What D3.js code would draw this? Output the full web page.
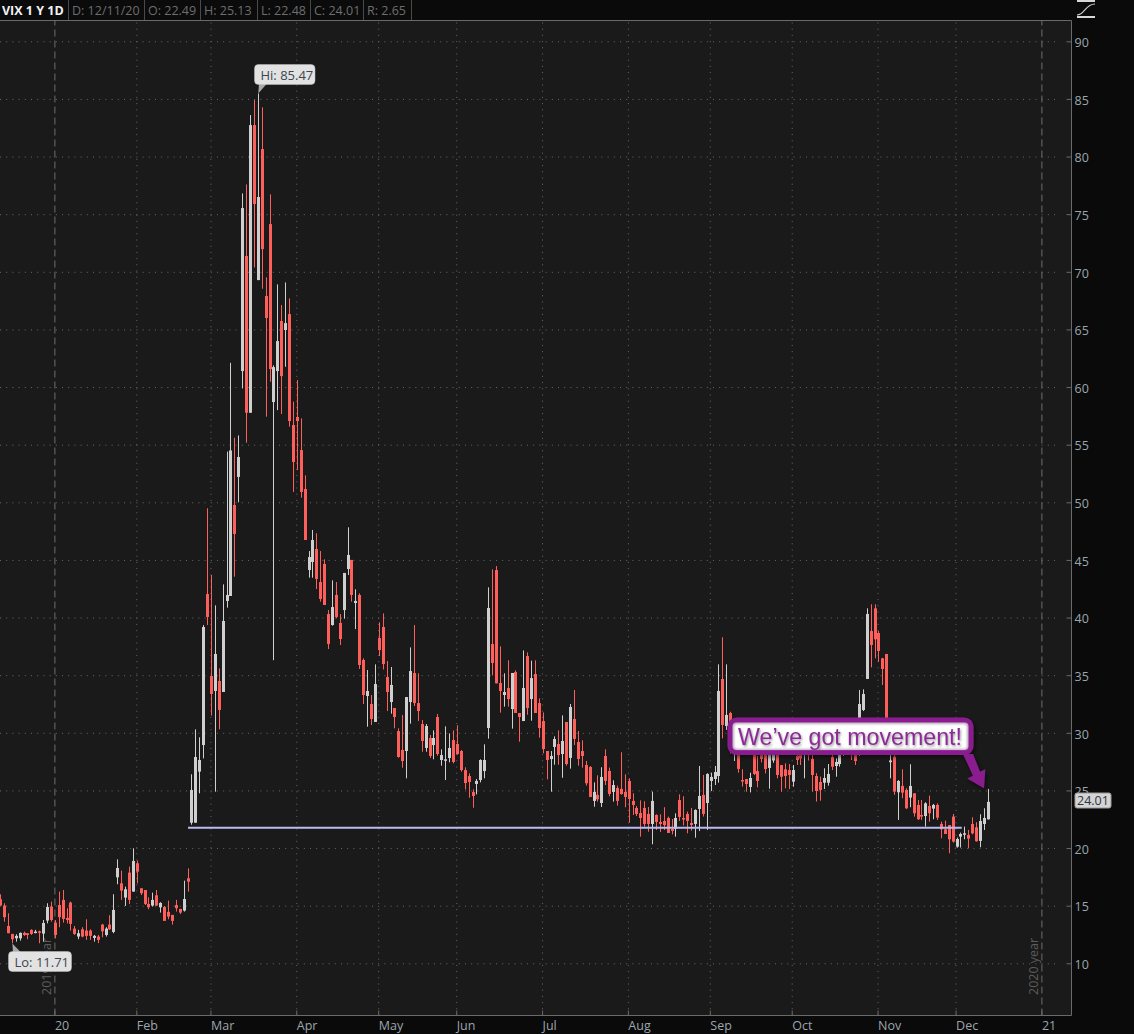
<!DOCTYPE html>
<html>
<head>
<meta charset="utf-8">
<script src="https://cdnjs.cloudflare.com/ajax/libs/d3/7.8.5/d3.min.js"></script>
<style>
html,body{margin:0;padding:0;background:#0a0a0a;overflow:hidden}
svg{display:block}
text{font-family:"Open Sans",sans-serif}
</style>
</head>
<body>
<svg id="c" width="1134" height="1034"></svg>
<script>
// Daily bars, first bar is 14 sessions before 2 Jan 2020 (bar index 0)
const firstBar = -14;
const opens = [
15.56,15.01,13.24,12.55,12.17,12.17,12.64,12.61,12.90,12.72,12.78,12.58,13.71,14.92,
13.53,15.06,15.50,13.94,15.27,13.01,12.32,12.95,12.84,12.84,12.20,12.32,13.36,12.46,13.36,12.72,
17.46,16.94,15.70,17.87,16.22,18.68,16.51,16.36,15.15,15.01,15.90,14.86,14.89,14.46,14.20,15.06,14.72,14.57,17.38,
22.20,22.20,26.63,28.94,42.04,34.93,33.63,34.50,33.54,41.44,41.87,49.77,52.20,61.39,71.37,57.77,82.73,69.28,80.65,67.90,74.14,58.70,61.39,65.73,64.95,66.33,56.70,57.40,54.53,51.15,
44.13,44.82,45.95,43.08,44.65,40.30,39.35,41.96,39.53,40.65,44.21,45.00,41.26,41.96,36.32,33.19,32.50,30.94,
38.22,39.18,34.84,32.67,32.15,30.15,28.51,28.42,32.67,35.19,32.58,30.76,28.68,29.55,28.94,31.37,27.64,27.58,27.81,29.37,29.03,28.42,26.77,26.25,24.86,25.56,25.90,26.68,
30.42,37.70,44.12,34.32,33.28,33.89,32.06,35.27,31.72,31.02,36.66,32.93,35.10,32.58,31.02,28.42,27.72,28.77,29.03,28.16,30.94,
27.82,31.20,29.20,28.42,27.21,27.03,24.09,24.61,23.91,27.99,26.69,24.87,25.21,25.13,24.87,25.82,24.09,23.48,23.04,23.48,22.96,22.09,22.87,22.26,22.35,22.61,21.66,21.66,24.17,22.61,22.96,22.18,22.09,23.39,24.61,23.91,
25.82,25.99,26.25,34.67,30.59,31.72,28.60,28.90,25.90,25.99,25.30,28.50,26.68,28.50,28.30,26.95,27.60,28.60,27.20,26.83,26.77,25.76,28.00,28.50,28.20,29.40,27.73,26.25,25.73,25.67,25.67,27.90,27.12,27.29,28.50,29.50,29.00,28.20,28.50,31.98,34.67,38.83,40.80,38.66,36.46,36.84,27.45,27.93,
24.84,25.39,25.04,24.38,24.75,23.74,22.87,22.78,23.65,23.42,23.74,22.09,21.63,22.00,22.73,20.12,20.99,21.19,21.14,22.09,21.80,20.62,22.09,22.49
];
const closes = [
15.01,14.00,12.61,12.09,12.38,12.64,12.46,12.46,12.55,12.75,12.67,13.50,14.89,13.76,
12.46,14.00,13.85,13.76,13.42,12.55,12.61,12.32,12.38,12.38,12.38,12.03,12.78,13.01,12.95,14.63,
18.27,16.31,16.42,15.50,18.88,17.95,16.08,15.15,14.86,15.50,15.01,15.24,13.68,14.05,13.68,14.78,14.40,15.58,17.09,
25.04,27.90,27.64,39.18,40.05,33.37,36.84,31.98,39.70,41.96,54.50,47.25,53.93,75.53,57.77,82.73,75.88,76.49,71.97,65.99,61.56,61.73,63.99,60.95,65.55,57.05,53.50,57.05,50.90,46.73,
45.25,46.73,43.35,41.61,41.09,37.71,40.91,40.05,38.14,43.87,45.43,41.96,41.44,35.88,33.28,33.63,31.20,34.23,
37.18,35.97,33.54,34.15,31.37,27.90,27.55,33.10,35.36,32.58,31.89,29.29,30.59,27.99,29.55,28.16,28.07,27.70,28.68,27.47,28.16,26.77,25.64,25.73,24.52,25.82,27.64,27.64,
40.83,36.06,34.29,33.63,33.54,32.93,35.19,31.72,31.37,33.89,32.15,34.75,31.72,30.42,28.59,27.64,27.99,29.46,28.07,29.29,27.29,
32.24,29.47,27.73,27.99,25.62,24.43,24.87,24.23,26.17,25.82,24.69,25.47,24.09,24.69,24.43,24.26,23.74,22.96,22.61,22.09,22.09,24.09,22.26,22.09,22.00,21.31,21.48,22.61,22.70,22.52,22.35,22.00,23.30,24.52,22.96,26.43,
26.17,26.60,33.63,30.68,31.55,28.81,29.71,26.87,25.85,25.56,26.08,26.43,25.82,27.73,26.86,28.58,28.51,26.34,26.19,26.25,26.34,26.77,27.64,27.78,29.48,28.06,26.34,24.95,25.04,26.08,26.43,27.06,27.47,29.18,29.35,28.65,28.11,27.55,32.50,33.37,40.31,37.62,38.11,37.10,35.54,29.57,27.60,24.90,
25.82,24.81,23.45,25.39,23.02,22.50,22.73,23.88,23.02,23.74,22.64,21.63,21.22,20.76,20.56,20.79,21.22,21.28,20.82,21.28,20.59,22.35,22.61,24.01
];
const highs = [
15.99,15.21,14.34,12.55,12.52,12.67,12.75,12.61,12.95,12.90,12.84,13.76,15.21,15.35,
13.76,16.22,16.36,14.78,15.35,13.24,12.90,13.13,13.82,12.95,12.46,12.46,13.42,13.13,14.17,15.99,
19.02,18.04,16.65,18.39,19.98,18.91,16.51,16.36,15.73,16.13,16.36,15.30,14.98,15.44,14.20,15.50,14.72,17.17,18.24,
26.40,30.30,29.61,39.35,49.48,43.69,41.06,35.59,42.88,54.40,62.10,55.60,55.80,76.80,77.58,83.60,84.90,85.47,84.27,69.52,76.72,61.88,68.91,67.12,69.08,67.69,58.73,60.61,57.28,52.34,
45.77,47.60,47.31,45.77,45.05,40.65,43.23,43.08,40.30,43.87,47.83,45.00,42.45,42.10,36.46,35.45,33.28,35.94,
39.58,40.36,36.23,35.71,32.15,30.39,31.54,33.10,37.41,39.35,35.16,31.11,30.76,29.81,30.21,31.63,28.56,30.56,29.95,30.21,30.65,28.51,27.00,26.48,25.09,25.99,27.70,29.00,
42.62,44.18,44.47,37.50,35.16,36.29,35.19,35.42,31.72,37.15,36.98,36.26,36.29,32.99,31.77,28.42,28.42,29.69,30.21,31.51,30.94,
32.50,33.72,30.16,29.35,27.56,27.12,25.70,26.31,27.01,28.57,26.98,25.88,25.42,28.31,26.40,26.05,24.75,23.65,24.14,24.06,23.56,24.90,22.93,22.93,23.54,22.73,22.52,23.01,24.66,24.49,23.16,23.48,23.36,27.12,26.34,26.49,
26.54,27.12,35.94,38.29,35.94,31.83,30.60,29.20,26.83,25.99,26.54,29.50,28.00,28.90,28.80,29.40,29.50,29.30,27.20,27.35,27.29,27.21,28.30,29.00,30.30,30.00,28.40,26.50,26.20,26.92,27.29,28.40,27.78,29.90,30.20,30.00,29.50,28.90,33.71,33.77,40.80,41.15,41.15,38.83,36.50,36.84,28.50,28.40,
25.90,26.83,25.19,27.27,24.75,24.17,24.17,23.97,24.55,23.83,23.88,22.29,22.38,22.00,22.96,20.91,21.34,21.86,21.57,22.67,22.24,22.93,23.45,25.13
];
const lows = [
15.01,13.62,12.61,11.74,11.88,11.97,12.38,12.09,12.46,12.61,11.74,11.88,13.47,13.62,
12.17,13.13,13.53,13.47,12.84,12.46,12.09,12.26,12.03,12.03,11.88,11.75,12.26,12.32,12.90,12.61,
16.86,15.50,14.98,15.15,16.22,16.94,15.93,15.06,14.69,14.92,14.98,14.40,13.68,13.82,13.36,14.49,14.28,14.49,16.22,
22.03,22.20,24.75,27.78,39.35,31.49,24.89,30.30,33.54,40.86,41.87,43.55,50.00,59.88,55.17,57.77,70.38,69.28,68.53,57.43,60.46,36.30,58.00,57.66,61.76,56.56,50.90,52.80,50.40,46.73,
43.46,43.46,42.48,41.38,41.09,37.27,39.30,39.93,37.62,39.90,43.69,41.38,39.00,35.54,32.50,30.53,30.68,30.94,
36.66,35.50,31.89,31.66,30.39,27.84,26.97,26.05,30.79,32.32,31.02,28.36,28.36,27.81,27.70,28.01,27.15,25.90,27.44,27.35,28.10,26.63,25.09,24.37,23.50,24.66,25.70,26.05,
29.49,34.99,34.29,31.75,32.27,32.27,30.36,31.72,29.23,31.02,31.57,31.05,31.72,29.58,28.22,25.96,24.89,27.23,27.23,26.10,27.15,
26.89,28.94,27.15,26.98,25.42,24.43,23.59,24.03,23.56,25.47,24.49,24.03,23.68,24.63,23.54,22.20,22.87,22.78,20.99,21.86,21.42,20.33,21.57,21.40,21.57,21.31,21.19,20.99,22.35,21.97,21.28,21.51,20.90,21.48,22.73,21.57,
24.95,25.47,25.68,29.52,30.25,28.20,27.55,26.54,25.33,24.89,24.83,26.34,25.27,27.44,26.48,25.15,27.40,26.05,24.89,25.18,25.12,25.33,27.21,27.21,26.05,27.60,24.89,24.03,24.11,25.12,25.41,26.77,26.19,27.06,28.00,28.20,27.64,27.21,28.00,31.89,34.67,35.68,36.46,36.17,34.15,28.90,26.05,24.61,
22.44,24.32,23.39,23.54,22.73,22.44,22.44,21.86,22.29,22.50,22.44,20.85,21.22,19.55,20.47,20.04,20.04,20.76,19.98,21.19,20.56,20.07,21.57,22.48
];

const priceTicks = [10,15,20,25,30,35,40,45,50,55,60,65,70,75,80,85,90];
const monthBars = [21,40,62,83,103,125,147,168,189,211,231];
const monthLabels = ["Feb","Mar","Apr","May","Jun","Jul","Aug","Sep","Oct","Nov","Dec"];
const yearBars = [0,253];
const yearLabels = ["20","21"];
const headerLabels = ["VIX 1 Y 1D","D: 12/11/20","O: 22.49","H: 25.13","L: 22.48","C: 24.01","R: 2.65"];
const supportLevel = 21.77;
const supportBars = [34,232.2];
const hiBar = 52, hiValue = 85.47, loBar = -11, loValue = 11.71;
const lastClose = 24.01;
const calloutText = "We\u2019ve got movement!";
const yearMarks = ["2019 year","2020 year"];

const W = 1134, H = 1034;
const plot = {left:0, right:1071.5, top:20.5, bottom:1015.5};
const x = d3.scaleLinear().domain([0,239]).range([55.3,988.3]);
const y = d3.scaleLinear().domain([10,90]).range([963.3,41.3]);
const gx = d3.scaleLinear().domain([0,253]).range([54.4,1041.4]); // calendar grid
const svg = d3.select("#c");
const defs = svg.append("defs");
const shadow = defs.append("filter").attr("id","ds").attr("x","-20%").attr("y","-40%").attr("width","140%").attr("height","180%");
shadow.append("feDropShadow").attr("dx",1.5).attr("dy",2).attr("stdDeviation",2).attr("flood-color","#000").attr("flood-opacity",0.6);
const tshadow = defs.append("filter").attr("id","ts").attr("x","-5%").attr("y","-30%").attr("width","110%").attr("height","170%");
tshadow.append("feDropShadow").attr("dx",1).attr("dy",1.5).attr("stdDeviation",1.2).attr("flood-color","#555").attr("flood-opacity",0.6);
const blur = defs.append("filter").attr("id","bl");
blur.append("feGaussianBlur").attr("stdDeviation",1);

svg.append("rect").attr("width",W).attr("height",H).attr("fill","#0a0a0a");
svg.append("rect").attr("x",0).attr("y",plot.top).attr("width",plot.right).attr("height",plot.bottom-plot.top).attr("fill","#1a1a1a");

// horizontal grid
const gridY = svg.append("g").attr("transform","translate(0,0)")
  .call(d3.axisRight(y).tickValues(priceTicks).tickSize(1060).tickFormat(""));
gridY.select(".domain").remove();
gridY.selectAll("line").attr("stroke","#6a6a6a").attr("stroke-dasharray","1 5.2");

// vertical month grid
const gridX = svg.append("g").attr("transform",`translate(0,${plot.bottom})`)
  .call(d3.axisTop(gx).tickValues(monthBars).tickSize(plot.bottom-plot.top).tickFormat(""));
gridX.select(".domain").remove();
gridX.selectAll("line").attr("stroke","#6a6a6a").attr("stroke-dasharray","1 5.2");

// year lines
const gridYear = svg.append("g").attr("transform",`translate(0,${plot.bottom})`)
  .call(d3.axisTop(gx).tickValues(yearBars).tickSize(plot.bottom-plot.top).tickFormat(""));
gridYear.select(".domain").remove();
gridYear.selectAll("line").attr("stroke","#6e6e6e").attr("stroke-dasharray","7 4");

// year watermarks
svg.selectAll("text.ym").data(yearMarks).join("text").attr("class","ym")
  .attr("transform",(d,i)=>`translate(${gx(yearBars[i])-3.7},995) rotate(-90)`)
  .attr("font-size",12.5).attr("fill","#5c5c5c").text(d=>d);

// candles
const bars = d3.range(opens.length).map(i=>({i:i+firstBar,o:opens[i],h:highs[i],l:lows[i],c:closes[i]}));
const col = d => d.c>=d.o ? "#cfcfcf" : "#ff5f5b";
const px = d => Math.floor(x(d.i));
const cg = svg.append("g");
cg.selectAll("rect.w").data(bars).join("rect").attr("class","w")
  .attr("x",d=>px(d)).attr("width",1)
  .attr("y",d=>y(d.h)).attr("height",d=>y(d.l)-y(d.h)).attr("fill",col);
cg.selectAll("rect.b").data(bars).join("rect").attr("class","b")
  .attr("x",d=>px(d)-1).attr("width",3)
  .attr("y",d=>y(Math.max(d.o,d.c)))
  .attr("height",d=>Math.max(1.5,Math.abs(y(d.o)-y(d.c)))).attr("fill",col);

// support line
svg.append("line").attr("x1",x(supportBars[0])).attr("x2",x(supportBars[1]))
  .attr("y1",y(supportLevel)).attr("y2",y(supportLevel))
  .attr("stroke","#b9bcf2").attr("stroke-width",2);

// frame + axes
svg.append("path").attr("d",`M0,${plot.top}H${plot.right}V${plot.bottom}H0`).attr("fill","none").attr("stroke","#6a6a6a");

const axisColor = "#9ba6ae";
const ay = svg.append("g").attr("transform",`translate(${plot.right},0)`)
  .call(d3.axisRight(y).tickValues(priceTicks).tickSizeInner(-5).tickSizeOuter(0).tickPadding(3));
ay.select(".domain").remove();
ay.selectAll("line").attr("stroke","#6a6a6a");
ay.selectAll("text").attr("fill",axisColor).attr("font-size",12.5).attr("font-family",'"Open Sans",sans-serif').attr("dy","0.42em");

const monthAxis = d3.axisBottom(gx).tickValues(monthBars.concat(yearBars))
  .tickFormat(d=> yearBars.includes(d) ? yearLabels[yearBars.indexOf(d)] : monthLabels[monthBars.indexOf(d)])
  .tickSizeInner(-5).tickSizeOuter(0).tickPadding(6);
const ax = svg.append("g").attr("transform",`translate(0,${plot.bottom})`).call(monthAxis);
ax.select(".domain").remove();
ax.selectAll("line").attr("stroke","#6a6a6a");
ax.selectAll("text").attr("fill",axisColor).attr("font-size",12.5).attr("font-family",'"Open Sans",sans-serif')
  .attr("text-anchor","start").attr("dx",0).attr("y",6).attr("dy",".71em");

// header
const seps = [0,68,144,200,257,310,363,411];
svg.append("rect").attr("width",411).attr("height",20).attr("fill","#0b0b0b");
svg.selectAll("line.sep").data(seps.slice(1)).join("line").attr("class","sep")
  .attr("x1",d=>d+0.5).attr("x2",d=>d+0.5).attr("y1",0).attr("y2",20).attr("stroke","#4a4a4a");
svg.selectAll("text.hd").data(headerLabels).join("text").attr("class","hd")
  .attr("x",(d,i)=> i===0 ? 2 : seps[i]+4).attr("y",15)
  .attr("font-size",(d,i)=>i===0?12.5:12.5).attr("font-weight",(d,i)=>i===0?700:400)
  .attr("fill",(d,i)=>i===0?"#f2f2f2":"#6e6e6e").text(d=>d);

// top-right study icon
const ic = svg.append("g");
ic.append("rect").attr("x",1077).attr("y",-1).attr("width",18).attr("height",3).attr("fill","#d8d8d8");
ic.append("rect").attr("x",1077).attr("y",16).attr("width",18).attr("height",2).attr("fill","#d8d8d8");
ic.append("path").attr("d","M1077,15C1085,15 1085,4 1095,4").attr("fill","none").attr("stroke","#d0d0d0").attr("stroke-width",1.1);

// Hi / Lo labels
function bubble(tipX,tipY,bx,by,bw,bh,baseA,baseB,label,tx){
  const g = svg.append("g");
  const baseY = tipY<by ? by+1 : by+bh-1;
  g.append("path").attr("d",`M${tipX},${tipY}L${baseA},${baseY}L${baseB},${baseY}Z`).attr("fill","#a8a8a8");
  g.append("rect").attr("x",bx).attr("y",by).attr("width",bw).attr("height",bh).attr("rx",4).attr("fill","#e2e2e2").attr("stroke","#bdbdbd").attr("stroke-width",0.5);
  g.append("text").attr("x",tx).attr("y",by+15).attr("font-size",13).attr("fill","#3b4650").text(label);
}
bubble(x(hiBar),y(hiValue),254.5,64.5,60.5,20,259,267,"Hi: "+hiValue.toFixed(2),260.5);
bubble(x(loBar),y(loValue),8.5,951.5,63,20,13,21,"Lo: "+loValue.toFixed(2),14.5);

// last price tag
svg.append("rect").attr("x",1075).attr("y",793).attr("width",36).attr("height",15).attr("rx",2).attr("fill","#d4d4d4").attr("stroke","#9a9a9a").attr("stroke-width",1);
svg.append("text").attr("x",1077).attr("y",805).attr("font-size",12.5).attr("fill","#2c3640").text(lastClose.toFixed(2));

// callout
const cal = svg.append("g").attr("filter","url(#ds)");
const purple = "#8a1f90";
const tipX = x(237.9), tipY = y(25.1)-1;
const arrowLine = d3.line();
cal.append("path").attr("d",arrowLine([[963,754],[973,754],[tipX-4,tipY-16.5],[tipX+1.3,tipY-19],[tipX,tipY],[tipX-16.7,tipY-9.7],[tipX-11,tipY-12.5]])+"Z").attr("fill",purple);
cal.append("rect").attr("x",727.5).attr("y",717.5).attr("width",246).attr("height",37.5).attr("rx",9).attr("fill",purple);
svg.append("rect").attr("x",732.5).attr("y",722.5).attr("width",236).attr("height",27.5).attr("rx",4).attr("fill","#b8a8ba");
svg.append("rect").attr("x",734).attr("y",724).attr("width",233).attr("height",25).attr("rx",3).attr("fill","#ffffff").attr("filter","url(#bl)");
svg.append("text").attr("x",738).attr("y",744.5).style("font-family",'"Liberation Sans",Arial,sans-serif')
  .attr("font-size",24).attr("fill","#8e2a98").attr("textLength",224).attr("lengthAdjust","spacingAndGlyphs").attr("filter","url(#ts)").text(calloutText);
</script>
</body>
</html>
